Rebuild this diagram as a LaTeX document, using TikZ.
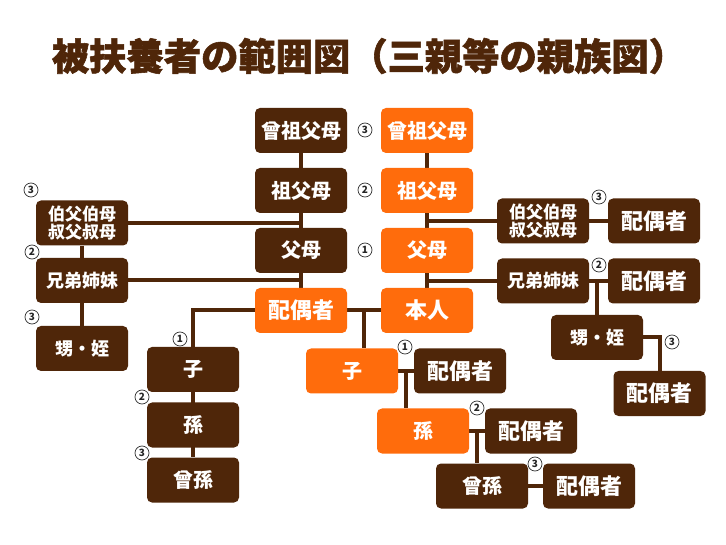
\documentclass[tikz,border=0pt]{standalone}
\usepackage{fontspec}
\setmainfont{Noto Sans CJK JP}
\newfontfamily\titlefont{Noto Sans CJK JP}[BoldFeatures={FakeBold=1.5}]
\usetikzlibrary{backgrounds,calc}
\definecolor{brn}{HTML}{4F2609}
\definecolor{org}{HTML}{FF6C0C}
\tikzset{
  box/.style={rectangle, rounded corners=5pt, minimum width=92pt, minimum height=45pt,
    inner sep=0pt, text=white, font=\bfseries\fontsize{20}{22}\selectfont, align=center},
  dbox/.style={box, fill=brn},
  obox/.style={box, fill=org},
  big/.style={font=\bfseries\fontsize{22}{24}\selectfont},
  mid/.style={font=\bfseries\fontsize{18}{20}\selectfont},
  two/.style={font=\bfseries\fontsize{17}{17.5}\selectfont},
  conn/.style={draw=brn, line width=4pt},
  deg/.style={circle, draw=black!80, line width=0.7pt, minimum size=14pt, inner sep=0pt,
    font=\bfseries\fontsize{10}{10}\selectfont, text=black!85}
}
\begin{document}
\begin{tikzpicture}[x=1pt,y=-1pt]
\useasboundingbox (0,0) rectangle (726,545);
% title
\node[text=brn, font=\titlefont\bfseries\fontsize{37.3}{40}\selectfont, inner sep=0pt] (title) at (369,56) {被扶養者の範囲図（三親等の親族図）};
% central dark column
\node[dbox] (d1) at (301,130.5) {曾祖父母};
\node[dbox] (d2) at (301,190.5) {祖父母};
\node[dbox] (d3) at (301,250.5) {父母};
\node[obox,big] (sp0) at (301,310.5) {配偶者};
% central orange column
\node[obox] (o1) at (427,130.5) {曾祖父母};
\node[obox] (o2) at (427,190.5) {祖父母};
\node[obox] (o3) at (427,250.5) {父母};
\node[obox,big] (me) at (427,310.5) {本人};
% left side
\node[dbox,two] (ojL) at (82,223) {伯父伯母\\叔父叔母};
\node[dbox,mid] (kL) at (82,280.5) {兄弟姉妹};
\node[dbox,mid] (oiL) at (82,348.5) {甥・姪};
% right side
\node[dbox,two] (ojR) at (543,221) {伯父伯母\\叔父叔母};
\node[dbox,big] (spA) at (654,221) {配偶者};
\node[dbox,mid] (kR) at (543,281) {兄弟姉妹};
\node[dbox,big] (spB) at (654,281) {配偶者};
\node[dbox,mid] (oiR) at (597,337.5) {甥・姪};
\node[dbox,big] (spC) at (659.5,393.5) {配偶者};
% lower left (spouse's descendants)
\node[dbox] (ko) at (193,369.5) {子};
\node[dbox] (mg) at (193,425) {孫};
\node[dbox] (hm) at (193,480) {曾孫};
% lower middle
\node[obox] (koO) at (352,371) {子};
\node[dbox,big] (spD) at (460,371) {配偶者};
\node[obox] (mgO) at (423,431) {孫};
\node[dbox,big] (spE) at (531,431) {配偶者};
\node[dbox] (hmO) at (482,486) {曾孫};
\node[dbox,big] (spF) at (589,486) {配偶者};
% connectors
\begin{scope}[on background layer]
\fill[white] (0,0) rectangle (726,545);
\draw[conn] (d1.south) -- (sp0.north);
\draw[conn] (o1.south) -- (me.north);
\draw[conn] (ojL.east) -- (ojL.east -| d1.south);
\draw[conn] (kL.east) -- (kL.east -| d1.south);
\draw[conn] (ojL.south) -- (kL.north);
\draw[conn] (kL.south) -- (oiL.north);
\draw[conn] (ojR.west) -- (ojR.west -| o1.south);
\draw[conn] (kR.west) -- (kR.west -| o1.south);
\draw[conn] (ojR.east) -- (spA.west);
\draw[conn] (kR.east) -- (spB.west);
\draw[conn] (oiR.north) -- (oiR.north |- kR.east);
\draw[conn] (oiR.east) -| (spC.north);
\draw[conn] (sp0.west) -| (ko.north);
\draw[conn] (ko.south) -- (hm.north);
\draw[conn] (sp0.east) -- (me.west);
\coordinate (c1) at ($(sp0.east)!0.5!(me.west)$);
\draw[conn] (c1) -- (c1 |- koO.north);
\draw[conn] (koO.east) -- (spD.west);
\coordinate (c2) at ($(koO.east)!0.5!(spD.west)$);
\draw[conn] (c2) -- (c2 |- mgO.north);
\draw[conn] (mgO.east) -- (spE.west);
\coordinate (c3) at ($(mgO.east)!0.5!(spE.west)$);
\draw[conn] (c3) -- (c3 |- hmO.north);
\draw[conn] (hmO.east) -- (spF.west);
\end{scope}
% degree marks
\node[deg] (n1) at (365,130) {3};
\node[deg] (n2) at (365,190) {2};
\node[deg] (n3) at (365,250) {1};
\node[deg] (n4) at (31,190) {3};
\node[deg] (n5) at (32,252) {2};
\node[deg] (n6) at (32,317) {3};
\node[deg] (n7) at (599,197) {3};
\node[deg] (n8) at (599,265) {2};
\node[deg] (n9) at (672,342) {3};
\node[deg] (n10) at (180,339) {1};
\node[deg] (n11) at (142,397) {2};
\node[deg] (n12) at (142,453) {3};
\node[deg] (n13) at (405,347) {1};
\node[deg] (n14) at (477,408) {2};
\node[deg] (n15) at (535,464) {3};
\end{tikzpicture}
\end{document}
